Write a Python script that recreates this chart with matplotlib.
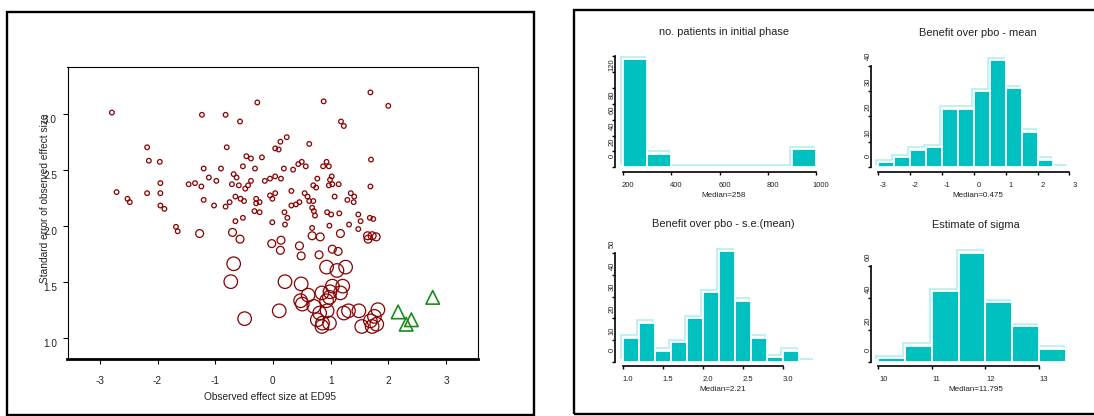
import matplotlib
matplotlib.use('Agg')
import matplotlib.pyplot as plt
import numpy as np
from matplotlib.patches import Rectangle
from matplotlib.transforms import ScaledTranslation

plt.rcParams['font.family'] = ['Liberation Sans', 'DejaVu Sans']
plt.rcParams['axes.unicode_minus'] = False

# observed effect size at ED95 and its standard error, one entry per simulated trial
effect = [-2.79, -0.27, 0.88, 1.69, 2.00, -1.23, -0.82, -0.57, 1.18, 1.23,
          0.24, 0.13, 0.04, 0.10, 0.63, -2.18, -0.80, -2.15, -1.96, -0.46,
          -0.38, -0.19, 1.70, -1.20, -0.90, -0.52, -0.31, 0.19, 0.35, 0.44,
          0.50, 0.57, 0.93, 0.87, 0.97, -1.11, -0.98, -1.46, -1.35, -1.24,
          -1.95, -0.68, -0.63, -0.71, -0.59, -0.38, -0.43, -0.14, -0.05, 0.04,
          0.14, 0.70, 0.75, 0.77, 0.99, 1.02, 0.97, 1.03, 1.14, 1.69,
          -0.48, -2.71, -2.18, -1.95, -2.52, -2.48, -1.20, -1.02, -0.82, -0.75,
          -0.65, -0.56, -0.50, -0.29, -0.23, -0.29, -0.05, -0.01, 0.04, 0.32,
          0.55, 0.60, 0.46, 0.63, 0.70, 1.07, 1.35, 1.41, 1.29, 1.40,
          -1.95, -1.88, 0.32, 0.40, 0.68, 0.71, -0.32, -0.23, 0.20, 0.25,
          -0.52, -0.65, -0.01, 0.21, 0.94, 1.01, 1.15, 0.73, 0.98, 1.48,
          1.32, 1.52, 1.48, 1.68, 1.74, -1.68, -1.65, -1.27, -0.70, -0.57,
          0.68, 0.68, 0.82, 1.17, 1.64, 1.72, 1.79, 1.65, -0.02, 0.14,
          0.13, 0.46, 0.49, 0.80, 1.03, 1.13, -0.68, 0.93, 1.11, 1.26,
          -0.73, 0.21, 0.49, 1.03, 1.21, 0.61, 0.85, 0.99, 1.17, 0.48,
          0.51, 0.71, 0.93, 0.98, 0.81, 0.94, 0.77, 0.86, 0.98, 0.85,
          0.11, -0.49, 1.23, 1.31, 1.49, 1.82, 1.76, 1.69, 1.80, 1.54,
          1.72]
std_err = [3.01, 3.10, 3.11, 3.19, 3.07, 2.99, 2.99, 2.93, 2.93, 2.89,
           2.79, 2.75, 2.69, 2.68, 2.73, 2.70, 2.70, 2.58, 2.57, 2.62,
           2.60, 2.61, 2.59, 2.51, 2.51, 2.53, 2.51, 2.51, 2.50, 2.55,
           2.57, 2.53, 2.57, 2.53, 2.53, 2.43, 2.40, 2.37, 2.38, 2.35,
           2.38, 2.46, 2.43, 2.37, 2.36, 2.40, 2.36, 2.40, 2.42, 2.44,
           2.42, 2.36, 2.34, 2.42, 2.41, 2.44, 2.36, 2.37, 2.37, 2.35,
           2.33, 2.30, 2.29, 2.29, 2.24, 2.21, 2.23, 2.18, 2.17, 2.21,
           2.26, 2.24, 2.22, 2.24, 2.21, 2.20, 2.27, 2.24, 2.29, 2.31,
           2.29, 2.26, 2.21, 2.22, 2.22, 2.26, 2.29, 2.26, 2.23, 2.21,
           2.18, 2.15, 2.18, 2.19, 2.16, 2.13, 2.13, 2.12, 2.12, 2.07,
           2.07, 2.04, 2.03, 2.01, 2.12, 2.10, 2.11, 2.09, 2.00, 2.10,
           2.01, 2.04, 1.97, 2.07, 2.06, 1.99, 1.95, 1.93, 1.94, 1.88,
           1.98, 1.91, 1.90, 1.93, 1.91, 1.91, 1.90, 1.88, 1.84, 1.87,
           1.78, 1.82, 1.73, 1.74, 1.79, 1.77, 1.66, 1.63, 1.60, 1.63,
           1.50, 1.50, 1.48, 1.46, 1.46, 1.38, 1.40, 1.41, 1.40, 1.33,
           1.30, 1.28, 1.33, 1.36, 1.22, 1.24, 1.16, 1.13, 1.13, 1.10,
           1.24, 1.17, 1.22, 1.24, 1.24, 1.25, 1.19, 1.15, 1.12, 1.10,
           1.10]

# trials marked separately (triangles)
flag_effect = [2.17, 2.40, 2.31, 2.77]
flag_se = [1.23, 1.16, 1.12, 1.36]

# histogram panels: bin edges and counts
n_edges = [200, 300, 400, 500, 600, 700, 800, 900, 1000]
n_counts = [136, 17, 0, 0, 0, 0, 0, 23]
mean_edges = [-3.0, -2.5, -2.0, -1.5, -1.0, -0.5, 0.0, 0.5, 1.0, 1.5, 2.0, 2.5, 3.0]
mean_counts = [2, 4, 7, 8, 23, 23, 30, 42, 31, 14, 3, 0]
semean_edges = [1.0, 1.2, 1.4, 1.6, 1.8, 2.0, 2.2, 2.4, 2.6, 2.8, 3.0, 3.2, 3.4]
semean_counts = [11, 18, 5, 9, 20, 32, 51, 28, 11, 2, 5, 0]
sigma_edges = [10.0, 10.5, 11.0, 11.5, 12.0, 12.5, 13.0, 13.5]
sigma_counts = [2, 10, 44, 68, 37, 22, 8]

W, H = 1094, 416
fig = plt.figure(figsize=(W / 100, H / 100), dpi=100)

DARKRED = '#8b0000'
TEAL = '#00c0c0'
SHADOW = '#b4f0f0'
TXT = '#222222'


def px_axes(left, top, right, bottom):
    return fig.add_axes([left / W, 1 - bottom / H, (right - left) / W, (bottom - top) / H])


def shift(dx, dy):
    return ScaledTranslation(dx / 100, dy / 100, fig.dpi_scale_trans)


# ---- left: scatter of standard error vs observed effect ----
ax = px_axes(67.5, 67.3, 478.3, 359.3)
se = np.array(std_err)
sizes = np.where(se < 1.7, 95, np.where(se < 1.95, 32, 11))
ax.scatter(effect, std_err, s=sizes, facecolors='none', edgecolors=DARKRED, linewidths=0.9)
ax.scatter(flag_effect, flag_se, s=95, marker='^', facecolors='none',
           edgecolors='#1a8c1a', linewidths=1.2)
ax.set_xlim(-3.56, 3.56)
ax.set_ylim(0.807, 3.414)
ax.set_xticks([-3, -2, -1, 0, 1, 2, 3])
ax.set_yticks([1.0, 1.5, 2.0, 2.5, 3.0])
ax.set_yticklabels(['1.0', '1.5', '2.0', '2.5', '3.0'])
for side in ['top', 'left', 'right']:
    ax.spines[side].set_linewidth(0.8)
ax.spines['bottom'].set_linewidth(2.0)
ax.tick_params(direction='out', length=3.3, width=0.8, labelsize=7.2, labelcolor=TXT)
ax.tick_params(axis='x', pad=8.5)
ax.tick_params(axis='y', pad=4.3)
for lab in ax.get_yticklabels():
    lab.set_transform(lab.get_transform() + shift(0, -5))
ax.text(0.492, -0.128, 'Observed effect size at ED95', transform=ax.transAxes,
        ha='center', va='center', fontsize=7.3, color=TXT)
ax.text(-0.0553, 0.551, 'Standard error of observed effect size', transform=ax.transAxes,
        rotation=90, ha='center', va='center', fontsize=7.3, color=TXT)


# ---- right: 2x2 histograms ----
def hist_panel(box, edges, counts, xticks, xlabels, yticks, ylabels, title, median):
    ax = px_axes(*box)
    edges = np.asarray(edges, float)
    counts = np.asarray(counts, float)
    lo, hi = edges[0], edges[-1]
    top = counts.max()
    # light outline sitting just up and left of the bars
    ax.stairs(counts, edges, baseline=0, color=SHADOW, lw=1.2,
              transform=ax.transData + shift(-2, 2.5), zorder=1)
    ax.bar(edges[:-1], counts, width=np.diff(edges), align='edge', color=TEAL,
           edgecolor='white', linewidth=1.3, zorder=2)
    ax.set_xlim(lo - 0.04 * (hi - lo), hi + 0.04 * (hi - lo))
    ax.set_ylim(-0.04 * top, 1.04 * top)
    ax.spines['top'].set_visible(False)
    ax.spines['right'].set_visible(False)
    ax.spines['left'].set_bounds(yticks[0], yticks[-1])
    ax.spines['bottom'].set_bounds(xticks[0], xticks[-1])
    ax.spines['left'].set_linewidth(1.2)
    ax.spines['bottom'].set_linewidth(1.2)
    ax.set_xticks(xticks)
    ax.set_xticklabels(xlabels)
    ax.set_yticks(yticks)
    ax.set_yticklabels(ylabels)
    ax.tick_params(direction='out', length=2.5, width=1.0, labelsize=5.5, labelcolor=TXT)
    ax.tick_params(axis='x', pad=4.7)
    ax.tick_params(axis='y', pad=-3, labelrotation=90)
    for lab in ax.get_xticklabels():
        lab.set_transform(lab.get_transform() + shift(5, 0))
    for lab in ax.get_yticklabels():
        lab.set_transform(lab.get_transform() + shift(0, 11))
    ax.annotate(title, xy=(0.5, 1), xycoords='axes fraction', xytext=(3, 23 * 0.72),
                textcoords='offset points', ha='center', va='center', fontsize=7.9, color=TXT)
    ax.annotate(median, xy=(0.5, 0), xycoords='axes fraction', xytext=(3, -23.5 * 0.72),
                textcoords='offset points', ha='center', va='center', fontsize=5.8, color=TXT)
    return ax


hist_panel((615, 54.7, 824, 171.7), n_edges, n_counts,
           [200, 400, 600, 800, 1000], ['200', '400', '600', '800', '1000'],
           [0, 20, 40, 60, 80, 100, 120, 140], ['0', '20', '40', '60', '80', '', '120', ''],
           'no. patients in initial phase', 'Median=258')
hist_panel((870.7, 56.2, 1077, 171.7), mean_edges, mean_counts,
           [-3, -2, -1, 0, 1, 2, 3], ['-3', '-2', '-1', '0', '1', '2', '3'],
           [0, 10, 20, 30, 40], ['0', '10', '20', '30', '40'],
           'Benefit over pbo - mean', 'Median=0.475')
hist_panel((615, 246.6, 822.4, 366.1), semean_edges, semean_counts,
           [1.0, 1.5, 2.0, 2.5, 3.0], ['1.0', '1.5', '2.0', '2.5', '3.0'],
           [0, 10, 20, 30, 40, 50], ['0', '10', '20', '30', '40', '50'],
           'Benefit over pbo - s.e.(mean)', 'Median=2.21')
hist_panel((870.7, 248.5, 1073.3, 366), sigma_edges, sigma_counts,
           [10, 11, 12, 13], ['10', '11', '12', '13'],
           [0, 20, 40, 60], ['0', '20', '40', '60'],
           'Estimate of sigma', 'Median=11.795')

# frames round the two halves
fig.add_artist(Rectangle((6.9 / W, 1 - 415 / H), (534.4 - 6.9) / W, (415 - 11.7) / H,
                         transform=fig.transFigure, fill=False, lw=1.7, ec='black'))
fig.add_artist(Rectangle((574.3 / W, 1 - 414.3 / H), (1100 - 574.3) / W, (414.3 - 10) / H,
                         transform=fig.transFigure, fill=False, lw=1.7, ec='black'))

fig.savefig('out.png', dpi=100)
